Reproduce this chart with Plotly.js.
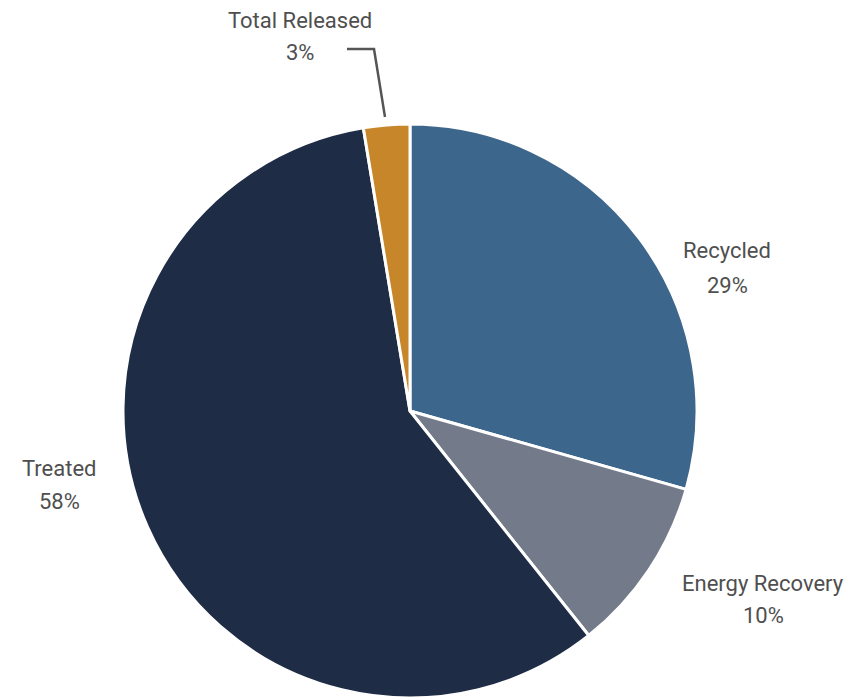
<!DOCTYPE html>
<html>
<head>
<meta charset="utf-8">
<script src="https://cdn.plot.ly/plotly-3.0.1.min.js"></script>
<style>html,body{margin:0;padding:0;background:#fff;}#chart{width:853px;height:700px;}</style>
</head>
<body>
<div id="chart"></div>
<script>
const categories = ["Recycled", "Energy Recovery", "Treated", "Total Released"];
const shares = [29.4, 9.9, 58.1, 2.6];
const colors = ["#3d668c", "#737a8a", "#1f2c45", "#c8862b"];

const W = 853, H = 700;
const px = x => x / W;
const py = y => 1 - y / H;

const total = shares.reduce((a, b) => a + b, 0);
const pctText = shares.map(v => Math.round(v / total * 100) + "%");

// label positions (pixel centres) for name line and percent line
const labelPos = [
  {x: 727, y1: 251, y2: 285},
  {x: 763, y1: 583, y2: 615},
  {x: 59,  y1: 468, y2: 501},
  {x: 300, y1: 20,  y2: 52}
];

const font = {family: "Roboto, 'Open Sans', sans-serif", size: 22, color: "#4f4f4f"};
const annotations = [];
categories.forEach((c, i) => {
  const p = labelPos[i];
  annotations.push({x: px(p.x), y: py(p.y1), xref: "paper", yref: "paper", text: c,
    showarrow: false, xanchor: "center", yanchor: "middle", font: font});
  annotations.push({x: px(p.x), y: py(p.y2), xref: "paper", yref: "paper", text: pctText[i],
    showarrow: false, xanchor: "center", yanchor: "middle", font: font});
});

const trace = {
  type: "pie",
  labels: categories,
  values: shares,
  sort: false,
  direction: "clockwise",
  rotation: 0,
  marker: {colors: colors, line: {color: "#ffffff", width: 3}},
  textinfo: "none",
  hoverinfo: "label+percent",
  showlegend: false,
  domain: {x: [px(123), px(697)], y: [py(698), py(124)]}
};

const layout = {
  width: W, height: H,
  margin: {l: 0, r: 0, t: 0, b: 0},
  paper_bgcolor: "#ffffff",
  plot_bgcolor: "#ffffff",
  showlegend: false,
  annotations: annotations,
  shapes: [{
    type: "path", xref: "paper", yref: "paper",
    path: `M ${px(347)} ${py(49)} L ${px(374)} ${py(49)} L ${px(385)} ${py(117)}`,
    line: {color: "#555555", width: 2.5}
  }]
};

Plotly.newPlot("chart", [trace], layout, {displayModeBar: false, staticPlot: true});
</script>
</body>
</html>
